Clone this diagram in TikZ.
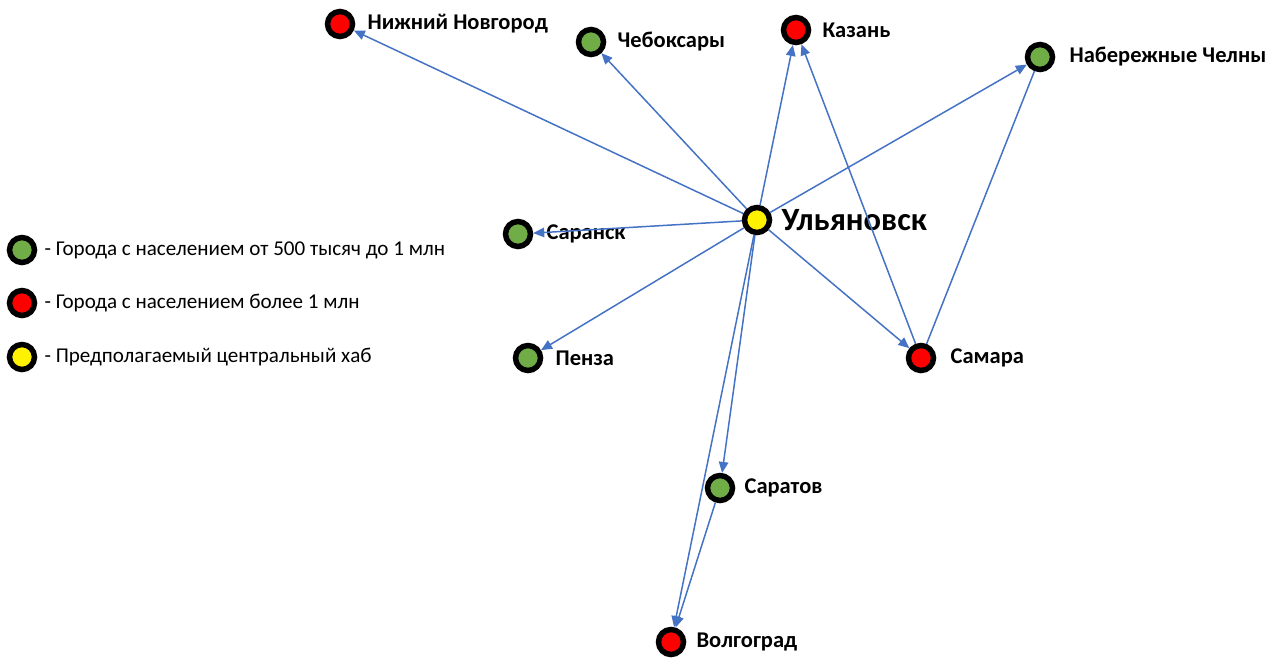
\documentclass[tikz,border=0pt]{standalone}
\usepackage{fontspec}
\setmainfont{Carlito}
\usetikzlibrary{arrows.meta, positioning}
\definecolor{citygreen}{RGB}{112,173,71}
\definecolor{linkblue}{RGB}{68,114,196}

\begin{document}
\begin{tikzpicture}[
    x=0.02cm, y=-0.02cm,
    city/.style={circle, draw=black, line width=0.11cm, minimum size=0.5cm, inner sep=0pt},
    bigcity/.style={city, fill=red},
    midcity/.style={city, fill=citygreen},
    hub/.style={city, fill=yellow},
    citylbl/.style={inner sep=0pt, font=\bfseries\fontsize{12.8}{15}\selectfont},
    legtext/.style={inner sep=0pt, font=\fontsize{12}{14}\selectfont},
    arrow/.style={-{Triangle[length=0.22cm, width=0.19cm]}, draw=linkblue, line width=0.85pt},
    link/.style={draw=linkblue, line width=0.85pt}
]
    \useasboundingbox (0,0) rectangle (1277,659);

    % Nodes
    \node[hub] (uly) at (757,220) {};
    \node[bigcity] (nn) at (340,24) {};
    \node[midcity] (cheb) at (591,42) {};
    \node[bigcity] (kaz) at (796,30) {};
    \node[midcity] (nch) at (1040,57) {};
    \node[midcity] (sar) at (518,234) {};
    \node[midcity] (pen) at (528,358) {};
    \node[bigcity] (sam) at (921,358) {};
    \node[midcity] (srt) at (720,488) {};
    \node[bigcity] (vlg) at (671,642) {};

    % City names
    \node[citylbl, font=\bfseries\fontsize{18.5}{21}\selectfont, right=0.18cm of uly] (uly_t) {Ульяновск};
    \node[citylbl, right=0.24cm of nn] (nn_t) {Нижний Новгород};
    \node[citylbl, right=0.22cm of cheb] (cheb_t) {Чебоксары};
    \node[citylbl, right=0.22cm of kaz] (kaz_t) {Казань};
    \node[citylbl, right=0.28cm of nch] (nch_t) {Набережные Челны};
    \node[citylbl, right=0.26cm of sar] (sar_t) {Саранск};
    \node[citylbl, right=0.24cm of pen] (pen_t) {Пенза};
    \node[citylbl, right=0.28cm of sam] (sam_t) {Самара};
    \node[citylbl, right=0.18cm of srt] (srt_t) {Саратов};
    \node[citylbl, right=0.2cm of vlg] (vlg_t) {Волгоград};

    % Legend
    \node[midcity] (leg_mid) at (22,250) {};
    \node[bigcity] (leg_big) at (22,303) {};
    \node[hub] (leg_hub) at (22,357) {};
    \node[legtext, right=0.14cm of leg_mid] (leg_mid_t) {- Города с населением от 500 тысяч до 1 млн};
    \node[legtext, right=0.14cm of leg_big] (leg_big_t) {- Города с населением более 1 млн};
    \node[legtext, right=0.14cm of leg_hub] (leg_hub_t) {- Предполагаемый центральный хаб};

    % Arrows
    \draw[arrow] (uly) -- (nn);
    \draw[arrow] (uly) -- (cheb);
    \draw[arrow] (uly) -- (kaz);
    \draw[arrow] (uly) -- (nch);
    \draw[arrow] (uly) -- (sar);
    \draw[arrow] (uly) -- (pen);
    \draw[arrow] (uly) -- (sam);
    \draw[arrow] (uly) -- (srt);
    \draw[arrow] (uly) -- (vlg);
    \draw[arrow] (sam) -- (kaz);
    \draw[link] (sam) -- (nch);
    \draw[arrow] (srt) -- (vlg);

\end{tikzpicture}
\end{document}
